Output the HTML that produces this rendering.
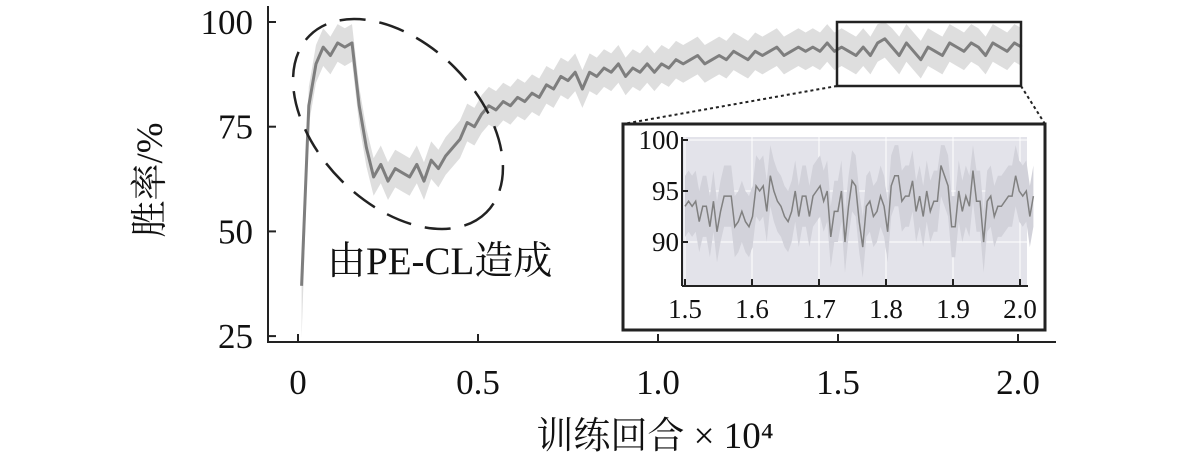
<!DOCTYPE html>
<html><head><meta charset="utf-8"><style>
body{margin:0;background:#fff}
text{font-family:"Liberation Serif","Noto Serif CJK SC","DejaVu Serif",serif;fill:#111}
</style></head><body>
<svg width="1181" height="464" viewBox="0 0 1181 464">
<g id="main"></g>
<g id="inset"></g>
</svg>
<script>
const mainSteps0 = 100, mainStepSize = 200;
const mainMean = [37,80,90,94,92,95,94,95,80,70,63,66,62,65,64,63,66,62,67,65,68,70,72,76,75,78,80,79,81,80,82,81,83,82,85,84,87,86,88,84,88,87,89,88,90,87,89,88,90,88,90,89,91,90,91,92,90,91,92,91,93,92,91,93,92,93,94,92,93,94,93,94,93,95,93,94,93,92,94,92,95,96,94,92,95,93,91,94,93,92,95,94,93,95,94,92,95,94,93,95,94];
const mainSpread = 4.5;
const mainXTicks = [0,0.5,1.0,1.5,2.0];
const mainXTickLabels = ["0","0.5","1.0","1.5","2.0"];
const mainYTicks = [25,50,75,100];
const insetMean = [93.5,94,93.5,94,92,93.5,93.5,91.5,94,91,93,94.5,94.5,94.5,91.5,92,93,92,91.5,92.5,95.5,95,95.5,93,96.5,95,94,93.5,92.5,92,93,95,92.5,94.5,94.5,92.5,94.5,95,95.5,94,95,90.5,93,93,95,90,93.5,96,95.5,92,89.5,93.5,94,92.5,93,94.5,93.5,91,95.5,96.5,96.5,94,94.5,94.5,96,93,94.5,92.5,95,93,94,94,97.5,96.5,95.5,91.5,91.5,95,93,94.5,93.5,97,94,94,90,94,94.5,92.5,93.5,93.5,94,94.5,94.5,96.5,95,94.5,95,92.5,94.5];
const insetSpread = 3;
const insetXStart = 1.5, insetXEnd = 2.02;
const insetXTicks = [1.5,1.6,1.7,1.8,1.9,2.0];
const insetYTicks = [90,95,100];

const NS="http://www.w3.org/2000/svg";
const FF='"Liberation Serif","Noto Serif CJK SC","DejaVu Serif",serif';
function mk(parent,tag,attrs,name,text){const e=document.createElementNS(NS,tag);for(const k in attrs)e.setAttribute(k,attrs[k]);


if(text!==undefined){e.textContent=text;e.setAttribute('font-family',FF);e.style.fontFamily=FF;}
parent.appendChild(e);return e;}

const mx=v=>298+v*360;
const my=v=>22+(100-v)*104.7/25;
const M=document.getElementById('main');
const xs=mainMean.map((_,i)=>(mainSteps0+i*mainStepSize)/1e4);
let up=xs.map((x,i)=>mx(x)+','+my(Math.min(100,mainMean[i]+mainSpread))).join(' ');
let lo=xs.map((x,i)=>mx(x)+','+my(mainMean[i]-mainSpread-(i===0?8:0))).reverse().join(' ');
mk(M,'polygon',{points:up+' '+lo,fill:'#dedede'},'main-band');
mk(M,'polyline',{points:xs.map((x,i)=>mx(x)+','+my(mainMean[i])).join(' '),fill:'none',stroke:'#7e7e7e','stroke-width':3,'stroke-linejoin':'round'},'main-line');
mk(M,'line',{x1:268,y1:6,x2:268,y2:342,stroke:'#222','stroke-width':2},'y-axis');
mk(M,'line',{x1:267,y1:342,x2:1056,y2:342,stroke:'#222','stroke-width':2},'x-axis');
mainYTicks.forEach(t=>{mk(M,'line',{x1:268,y1:my(t),x2:276,y2:my(t),stroke:'#222','stroke-width':2},'y-tick');
mk(M,'text',{x:253,y:my(t)+12,'font-size':35,'text-anchor':'end'},'y-tick-label',String(t));});
mainXTicks.forEach((t,i)=>{mk(M,'line',{x1:mx(t),y1:334,x2:mx(t),y2:342,stroke:'#222','stroke-width':2},'x-tick');
mk(M,'text',{x:mx(t),y:394,'font-size':35,'text-anchor':'middle'},'x-tick-label',mainXTickLabels[i]);});
mk(M,'text',{x:0,y:0,'font-size':37,'text-anchor':'middle',transform:'translate(162,180) rotate(-90)'},'y-axis-title','胜率/%');
mk(M,'text',{x:655,y:448,'font-size':37,'text-anchor':'middle'},'x-axis-title','训练回合 × 10⁴');
mk(M,'ellipse',{cx:398,cy:124,rx:125,ry:80,transform:'rotate(45 398 124)',fill:'none',stroke:'#222','stroke-width':2.5,'stroke-dasharray':'26 14'},'annotation-ellipse');
mk(M,'text',{x:327,y:274,'font-size':39},'annotation-text','由PE-CL造成');
mk(M,'rect',{x:837,y:22,width:184,height:64,fill:'none',stroke:'#222','stroke-width':2.5},'zoom-box');
mk(M,'line',{x1:837,y1:86,x2:623,y2:124,stroke:'#222','stroke-width':2,'stroke-dasharray':'3 3'},'zoom-connector-left');
mk(M,'line',{x1:1021,y1:86,x2:1045,y2:124,stroke:'#222','stroke-width':2,'stroke-dasharray':'3 3'},'zoom-connector-right');

const I=document.getElementById('inset');
const ix=v=>685+(v-1.5)*670;
const iy=v=>140+(100-v)*10.2;
mk(I,'rect',{x:623,y:124,width:422,height:206,fill:'#fff',stroke:'#222','stroke-width':3},'inset-frame');
mk(I,'rect',{x:682,y:137,width:345,height:149,fill:'#e3e3ea'},'inset-background');
insetXTicks.forEach(t=>mk(I,'line',{x1:ix(t),y1:137,x2:ix(t),y2:286,stroke:'#fff','stroke-width':1},'inset-grid-x'));
insetYTicks.forEach(t=>mk(I,'line',{x1:682,y1:iy(t),x2:1027,y2:iy(t),stroke:'#fff','stroke-width':1},'inset-grid-y'));
const n=insetMean.length;
const ixs=insetMean.map((_,i)=>insetXStart+i*(insetXEnd-insetXStart)/(n-1));
up=ixs.map((x,i)=>ix(x)+','+iy(Math.min(99.5,insetMean[i]+insetSpread))).join(' ');
lo=ixs.map((x,i)=>ix(x)+','+Math.min(285,iy(insetMean[i]-insetSpread))).reverse().join(' ');
mk(I,'polygon',{points:up+' '+lo,fill:'#d2d2da'},'inset-band');
mk(I,'polyline',{points:ixs.map((x,i)=>ix(x)+','+iy(insetMean[i])).join(' '),fill:'none',stroke:'#808080','stroke-width':1.5},'inset-line');
mk(I,'line',{x1:682,y1:137,x2:682,y2:286,stroke:'#222','stroke-width':2},'inset-y-axis');
mk(I,'line',{x1:682,y1:286,x2:1028,y2:286,stroke:'#222','stroke-width':2},'inset-x-axis');
insetYTicks.forEach(t=>{mk(I,'line',{x1:682,y1:iy(t),x2:688,y2:iy(t),stroke:'#222','stroke-width':2},'inset-y-tick');
mk(I,'text',{x:679,y:iy(t)+9,'font-size':27,'text-anchor':'end'},'inset-y-tick-label',String(t));});
insetXTicks.forEach(t=>{mk(I,'line',{x1:ix(t),y1:279,x2:ix(t),y2:286,stroke:'#222','stroke-width':2},'inset-x-tick');
mk(I,'text',{x:ix(t),y:318,'font-size':27,'text-anchor':'middle'},'inset-x-tick-label',t.toFixed(1));});
</script>
</body></html>
